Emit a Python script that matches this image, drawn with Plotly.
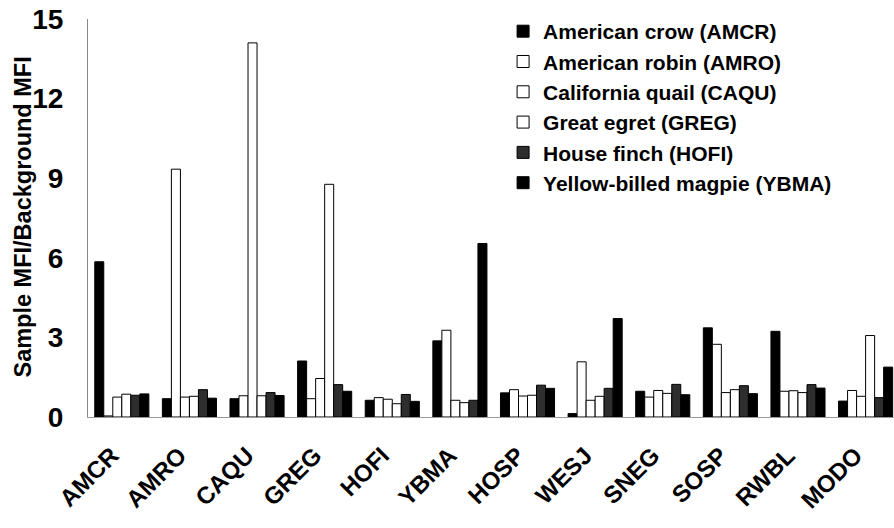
import plotly.graph_objects as go

categories = ["AMCR", "AMRO", "CAQU", "GREG", "HOFI", "YBMA",
              "HOSP", "WESJ", "SNEG", "SOSP", "RWBL", "MODO"]

series_names = ["American crow (AMCR)", "American robin (AMRO)",
                "California quail (CAQU)", "Great egret (GREG)",
                "House finch (HOFI)", "Yellow-billed magpie (YBMA)"]

amcr = [5.85, 0.69, 0.69, 2.11, 0.63, 2.87, 0.91, 0.13, 0.97, 3.36, 3.23, 0.60]
amro = [0.04, 9.34, 0.80, 0.69, 0.73, 3.27, 1.03, 2.08, 0.75, 2.74, 0.97, 1.00]
caqu = [0.75, 0.75, 14.10, 1.45, 0.67, 0.63, 0.79, 0.63, 1.00, 0.92, 0.99, 0.78]
greg = [0.86, 0.78, 0.80, 8.77, 0.50, 0.54, 0.82, 0.78, 0.89, 1.03, 0.92, 3.07]
hofi = [0.82, 1.03, 0.92, 1.22, 0.85, 0.63, 1.20, 1.08, 1.23, 1.18, 1.22, 0.73]
ybma = [0.87, 0.71, 0.81, 0.97, 0.59, 6.54, 1.08, 3.71, 0.84, 0.88, 1.09, 1.88]

y_ticks = [0, 3, 6, 9, 12, 15]
y_title = "Sample MFI/Background MFI"

values = [amcr, amro, caqu, greg, hofi, ybma]
fills = ["#000000", "#ffffff", "#ffffff", "#ffffff", "#2e2e2e", "#000000"]

FONT = "Liberation Sans, Arial, Helvetica, sans-serif"

fig = go.Figure()
for name, vals, col in zip(series_names, values, fills):
    fig.add_trace(go.Bar(
        x=categories, y=vals, name=name,
        marker=dict(color=col, line=dict(color="#000000", width=1)),
    ))

fig.update_layout(
    width=894, height=528,
    margin=dict(l=88, r=0, t=19, b=111),
    paper_bgcolor="white", plot_bgcolor="white",
    barmode="group", bargap=0.2, bargroupgap=0,
    font=dict(family=FONT, color="black", weight="bold"),
    showlegend=True,
    legend=dict(
        x=0.515, y=1.02, xanchor="left", yanchor="top",
        font=dict(family=FONT, size=21, color="black", weight="bold"),
        bgcolor="rgba(0,0,0,0)", borderwidth=0,
    ),
    xaxis=dict(
        range=[-0.5, 11.42], tickangle=-45, automargin=False,
        tickfont=dict(family=FONT, size=24, color="black", weight="bold"),
        ticklabelstandoff=14, ticklabelshift=-10,
        showline=True, linecolor="#999999", linewidth=1,
        showgrid=False, zeroline=False, ticks="",
    ),
    yaxis=dict(
        range=[0, 15], tickvals=y_ticks, ticktext=[str(t) for t in y_ticks],
        automargin=False,
        tickfont=dict(family=FONT, size=28, color="black", weight="bold"),
        ticklabelstandoff=18,
        showline=True, linecolor="#888888", linewidth=1,
        showgrid=False, zeroline=False, ticks="",
    ),
    annotations=[dict(
        text=y_title, textangle=-90, showarrow=False,
        xref="paper", yref="paper", x=-0.0806, y=0.5013,
        xanchor="center", yanchor="middle",
        font=dict(family=FONT, size=23.5, color="black", weight="bold"),
    )],
)

fig.write_html("out.html")
